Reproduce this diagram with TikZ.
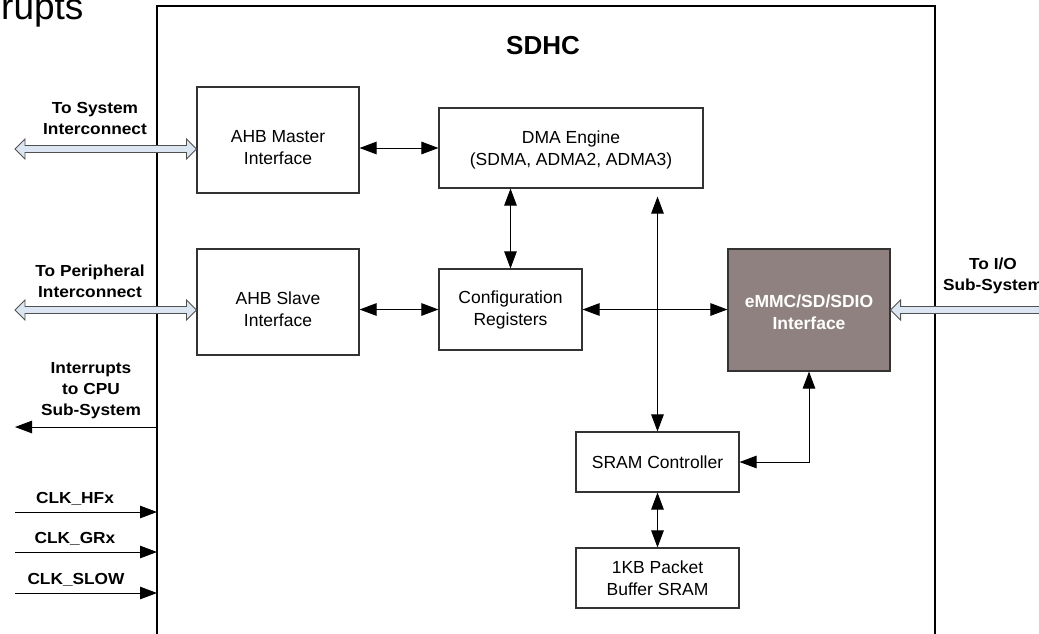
\documentclass[tikz,border=0pt]{standalone}
\usepackage{fontspec}
\setmainfont{Liberation Sans}
\newfontfamily\labfont{Liberation Sans}[FakeStretch=1.08]
\usetikzlibrary{arrows.meta,calc}
\definecolor{emmcfill}{RGB}{143,129,127}
\definecolor{hollowfill}{RGB}{220,230,242}
\definecolor{hollowedge}{RGB}{80,80,80}
\tikzset{
  blk/.style={draw=black!80, line width=1.1pt, inner sep=0pt},
  btxt/.style={font=\fontsize{17.5}{22}\selectfont, align=center, inner sep=0pt},
  lab/.style={font=\labfont\bfseries\fontsize{16}{21}\selectfont, align=center, inner sep=0pt},
  conn/.style={line width=1pt, >={Triangle[length=17pt,width=12.5pt]}},
  hollow/.style={draw=hollowedge, fill=hollowfill, line width=0.9pt, line join=miter},
}
\newcommand\mydblarrow[2]{%
  \filldraw[hollow] (#1) -- ++(10,-10) -- ++(0,6.5) -- ($(#2)+(-10,-3.5)$) -- ++(0,-6.5) -- (#2)
    -- ++(-10,10) -- ++(0,-6.5) -- ($(#1)+(10,3.5)$) -- ++(0,6.5) -- cycle;}
\begin{document}
\begin{tikzpicture}[x=1pt,y=-1pt]
\useasboundingbox (0,0) rectangle (1039,633);
\fill[white] (0,0) rectangle (1039,633);

% cropped title text
\node[anchor=base west, inner sep=0pt, font=\fontsize{37}{40}\selectfont] (rupts) at (1,19) {rupts};

% SDHC frame
\draw[line width=1.3pt] (157,640) -- (157,6) -- (935,6) -- (935,640);
\node[font=\bfseries\fontsize{26}{30}\selectfont, inner sep=0pt] (title) at (543,45.5) {SDHC};

% blocks
\node[blk, minimum width=162pt, minimum height=106pt] (amaster) at (278,140) {};
\node[blk, minimum width=162pt, minimum height=106pt] (aslave) at (278,302) {};
\node[blk, minimum width=264pt, minimum height=80pt] (dma) at (571,148) {};
\node[blk, minimum width=143pt, minimum height=81pt] (cfg) at (510.5,309.5) {};
\node[blk, fill=emmcfill, minimum width=162pt, minimum height=122pt] (emmc) at (809,310) {};
\node[blk, minimum width=163pt, minimum height=60pt] (sram) at (657.5,462) {};
\node[blk, minimum width=163pt, minimum height=60pt] (kb) at (657.5,578) {};

\node[btxt] (amasterT) at (278,148) {AHB Master\\Interface};
\node[btxt] (aslaveT) at (278,309) {AHB Slave\\Interface};
\node[btxt] (dmaT) at (571,149.5) {DMA Engine\\(SDMA, ADMA2, ADMA3)};
\node[btxt] (cfgT) at (510.5,310) {Configuration\\Registers};
\node[btxt, text=white, font=\bfseries\fontsize{17.5}{22}\selectfont] (emmcT) at (809,312) {eMMC/SD/SDIO\\Interface};
\node[btxt] (sramT) at (657.5,462) {SRAM Controller};
\node[btxt] (kbT) at (657.5,578) {1KB Packet\\Buffer SRAM};

% internal connectors
\draw[conn,<->] (amaster.east |- dma.west) -- (dma.west);
\draw[conn,<->] (aslave.east |- cfg.west) -- (cfg.west);
\draw[conn,<->] (dma.south -| cfg.north) -- (cfg.north);
\draw[conn,<->] (cfg.east) -- (cfg.east -| emmc.west);
\draw[conn,<->] ($(dma.south -| sram.north)+(0,8)$) -- (sram.north);
\draw[conn,<->] (emmc.south) |- (sram.east);
\draw[conn,<->] (sram.south) -- (kb.north);

% left side interfaces
\coordinate (sysL) at (15,149);
\coordinate (perL) at (15,310);
\mydblarrow{sysL}{amaster.west |- sysL}
\mydblarrow{perL}{aslave.west |- perL}
\node[lab] (sysT) at (95,118) {To System\\Interconnect};
\node[lab] (perT) at (90,281) {To Peripheral\\Interconnect};

% I/O side
\coordinate (ioR) at (1050,310);
\filldraw[hollow] (emmc.east) -- ++(10,-10) -- ++(0,6.5) -- ($(ioR)+(0,-3.5)$) -- ($(ioR)+(0,3.5)$)
  -- ($(emmc.east)+(10,3.5)$) -- ++(0,6.5) -- cycle;
\node[lab] (ioT) at (993,276) {To I/O\\Sub-System};

% interrupts
\coordinate (intR) at (157,427);
\coordinate (intL) at (15,427);
\draw[conn,->] (intR) -- (intL);
\node[lab] (intT) at (91,391) {Interrupts\\to CPU\\Sub-System};

% clocks
\coordinate (hfL) at (15,512);  \coordinate (hfR) at (157,512);
\coordinate (grL) at (15,552);  \coordinate (grR) at (157,552);
\coordinate (slL) at (15,593);  \coordinate (slR) at (157,593);
\draw[conn,->] (hfL) -- (hfR);
\draw[conn,->] (grL) -- (grR);
\draw[conn,->] (slL) -- (slR);
\node[lab, anchor=base] (hfT) at (75,503) {CLK\_HFx};
\node[lab, anchor=base] (grT) at (75,543) {CLK\_GRx};
\node[lab, anchor=base] (slT) at (76,584) {CLK\_SLOW};
\end{tikzpicture}
\end{document}
